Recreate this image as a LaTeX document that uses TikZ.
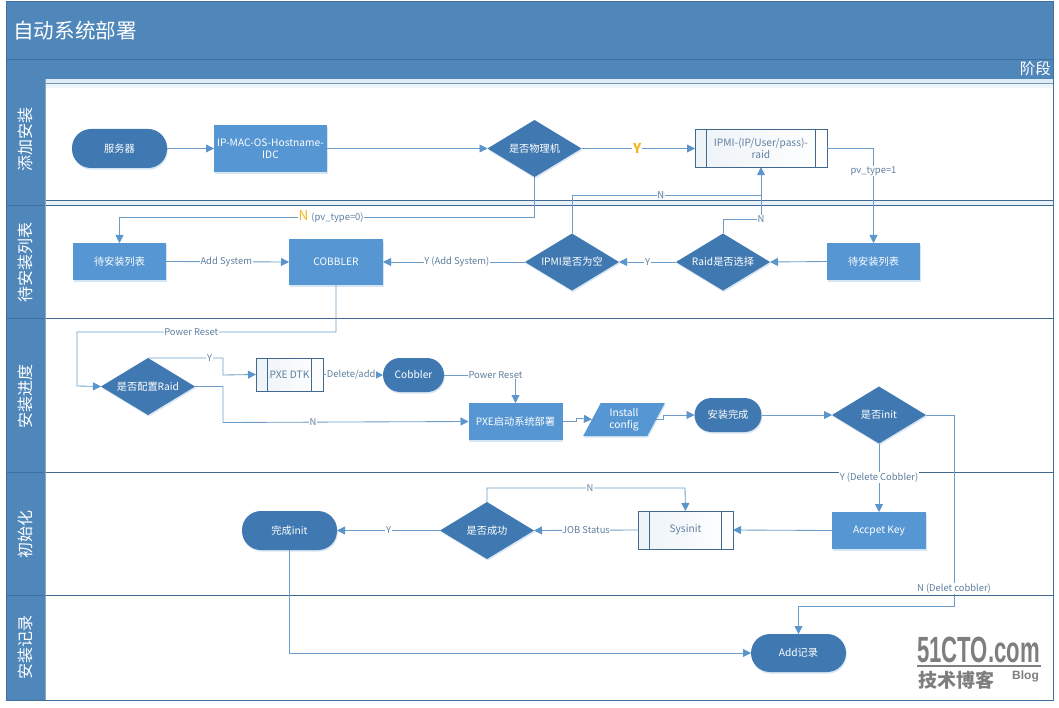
\documentclass[tikz,border=0pt]{standalone}
\usepackage{fontspec}
\setmainfont{Noto Sans CJK SC}
\newfontfamily\wmfont{Liberation Sans}
\usetikzlibrary{arrows.meta,shapes.geometric,shadows,calc}
\definecolor{hdr}{HTML}{4F87BA}
\definecolor{hdrline}{HTML}{3F70A0}
\definecolor{darkfill}{HTML}{4079B1}
\definecolor{rectfill}{HTML}{5596D3}
\definecolor{conn}{HTML}{6C9CC8}
\definecolor{tip}{HTML}{5B95CB}
\definecolor{lane}{HTML}{41688E}
\definecolor{pale}{HTML}{DCEBF6}
\definecolor{lbl}{HTML}{5F7F9F}
\definecolor{glow}{HTML}{BCD4EA}
\definecolor{gold}{HTML}{F2B71E}
\definecolor{wm}{HTML}{7E7E7E}
\tikzset{
  x=1pt,y=-1pt,
  softshadow/.style={general shadow={fill=glow,opacity=.6,shadow xshift=.8pt,shadow yshift=-1.6pt}},
  base/.style={inner sep=0pt,outer sep=0pt,align=center,font=\fontsize{10.2}{12}\selectfont,text=white,softshadow},
  pill/.style={base,rectangle,rounded corners=16.5pt,fill=darkfill},
  flowrect/.style={base,rectangle,fill=rectfill},
  choice/.style={base,diamond,aspect=1.65,fill=darkfill,minimum width=94pt,minimum height=57pt},
  inout/.style={base,trapezium,trapezium left angle=64,trapezium right angle=116,fill=rectfill,trapezium stretches=true},
  subproc/.style={inner sep=0pt,outer sep=0pt,align=center,font=\fontsize{10.2}{12}\selectfont,text=lbl,rectangle,draw=lane,line width=.7pt,left color=hdr!10,right color=white,
    path picture={\draw[lane,line width=.7pt]
      ([xshift=#1]path picture bounding box.north west)--([xshift=#1]path picture bounding box.south west)
      ([xshift=-#1]path picture bounding box.north east)--([xshift=-#1]path picture bounding box.south east);}},
  flow/.style={draw=conn,line width=.85pt,-{Triangle[length=8pt,width=8pt,fill=tip,color=tip]}},
  tag/.style={inner sep=.6pt,fill=white,font=\fontsize{9.4}{11}\selectfont,text=lbl},
  lanelabel/.style={rotate=90,font=\fontsize{16}{18}\selectfont,text=white,inner sep=0pt},
  laneline/.style={draw=lane,line width=.8pt},
}
\begin{document}
\begin{tikzpicture}
\useasboundingbox (0,0) rectangle (1059,708);
% frame, header and lanes
\fill[white] (0,0) rectangle (1059,708);
\fill[hdr] (6,2) rectangle (1053.5,79);
\fill[hdr] (6,79) rectangle (45,700);
\fill[pale] (45,79) rectangle (1053.5,83);
\fill[pale!50] (45,84) rectangle (1053.5,88);
\fill[pale!60] (45,200) rectangle (1053.5,205);
\draw[hdrline,line width=.8pt] (6,59) -- (1053.5,59);
\draw[lane!70,line width=.6pt] (45,83.5) -- (1053.5,83.5);
\draw[laneline] (45,200.3) -- (1053.5,200.3);
\draw[laneline] (45,205.5) -- (1053.5,205.5);
\draw[laneline] (45,318.5) -- (1053.5,318.5);
\draw[laneline] (45,472.5) -- (1053.5,472.5);
\draw[laneline] (45,595.5) -- (1053.5,595.5);
\draw[hdrline,line width=.6pt] (6,205.5) -- (45,205.5) (6,318.5) -- (45,318.5) (6,472.5) -- (45,472.5) (6,595.5) -- (45,595.5);
\draw[hdrline,line width=1pt] (6,2) rectangle (1053.5,700);
\draw[lane!60!white,line width=.6pt] (45,79) -- (45,700);
\node[anchor=west,font=\fontsize{20.6}{22}\selectfont,text=white,inner sep=0pt] (title) at (13,31) {自动系统部署};
\node[anchor=east,font=\fontsize{15.5}{18}\selectfont,text=white,inner sep=0pt] (phase) at (1051,69) {阶段};
\node[lanelabel] (lane1) at (25,140) {添加安装};
\node[lanelabel] (lane2) at (25,262) {待安装列表};
\node[lanelabel] (lane3) at (25,396) {安装进度};
\node[lanelabel] (lane4) at (25,534) {初始化};
\node[lanelabel] (lane5) at (25,647) {安装记录};
% nodes
\node[pill,minimum width=95pt,minimum height=39pt,rounded corners=19pt] (server) at (119.5,148.5) {服务器};
\node[flowrect,minimum width=113pt,minimum height=47pt] (ipmac) at (270.5,148.5) {IP-MAC-OS-Hostname-\\IDC};
\node[choice] (phys) at (534.5,148.5) {是否物理机};
\node[subproc=11.5pt,minimum width=132pt,minimum height=37.5pt] (ipmi) at (761,148.5) {IPMI-(IP/User/pass)-\\raid};
\node[flowrect,minimum width=93pt,minimum height=37pt] (waitA) at (119.5,261.5) {待安装列表};
\node[flowrect,minimum width=94pt,minimum height=46pt] (cobbler) at (336,262) {COBBLER};
\node[choice] (ipmiempty) at (572,262) {IPMI是否为空};
\node[choice] (raidsel) at (723,262) {Raid是否选择};
\node[flowrect,minimum width=93pt,minimum height=37pt] (waitB) at (873.5,261.5) {待安装列表};
\node[choice] (raidcfg) at (148,386.5) {是否配置Raid};
\node[subproc=11.5pt,minimum width=67pt,minimum height=33pt] (pxedtk) at (289.5,374.5) {PXE DTK};
\node[pill,minimum width=61pt,minimum height=34pt,rounded corners=17pt] (cob2) at (413.5,375) {Cobbler};
\node[flowrect,minimum width=94pt,minimum height=37pt] (pxeboot) at (515.5,421.5) {PXE启动系统部署};
\node[inout,minimum width=82pt,minimum height=33pt] (install) at (624,419.5) {Install\\config};
\node[pill,minimum width=67pt,minimum height=34pt,rounded corners=17pt] (done) at (728,415) {安装完成};
\node[choice] (initq) at (879,415) {是否init};
\node[flowrect,minimum width=94pt,minimum height=37pt] (accept) at (879,530.5) {Accpet Key};
\node[subproc=11.5pt,minimum width=95pt,minimum height=38pt] (sysinit) at (685.5,530) {Sysinit};
\node[choice] (success) at (487,530.5) {是否成功};
\node[pill,minimum width=95pt,minimum height=39pt,rounded corners=19pt] (finish) at (289.5,530.5) {完成init};
\node[pill,minimum width=95pt,minimum height=38pt,rounded corners=19pt] (record) at (798.5,653) {Add记录};
% connectors
\draw[flow] (server.east) -- (ipmac.west);
\draw[flow] (ipmac.east) -- (phys.west);
\draw[flow] (phys.east) -- node[tag,pos=.49,text=gold,font=\bfseries\fontsize{13.5}{14}\selectfont]{Y} (ipmi.west);
\draw[flow] (ipmi.east) -| node[tag,pos=.62]{pv\_type=1} (waitB.north);
\draw[flow] (phys.south) -- ++(0,40) -- node[tag,pos=.49]{\textcolor{gold}{\fontsize{13.5}{14}\selectfont N}\hspace{3pt}(pv\_type=0)} ($(phys.south)+(-415,40)$) -- (waitA.north);
\draw[flow] (waitB.west) -- (raidsel.east);
\draw[flow] (raidsel.west) -- node[tag,pos=.5]{Y} (ipmiempty.east);
\draw[flow] (ipmiempty.west) -- node[tag,pos=.48]{Y (Add System)} (cobbler.east);
\draw[flow] (waitA.east) -- node[tag,pos=.49]{Add System} (cobbler.west);
\draw[flow] (raidsel.north) -- ++(0,-14) -- node[tag,pos=1,inner sep=1pt]{N} ++(38,0) -- (ipmi.south);
\draw[flow,-] (ipmiempty.north) -- ++(0,-38) -- node[tag,pos=.47,fill=pale!40]{N} ++(189,0);
\draw[flow] (cobbler.south) -- ++(0,47) -- node[tag,pos=.559]{Power Reset} ++(-259,0) -- ++(0,54) -- (raidcfg.west);
\draw[flow] (raidcfg.north) -- node[tag,pos=.82]{Y} ++(75,0) -- ++(0,17) -- (pxedtk.west);
\draw[flow] (raidcfg.east) -- ++(28,0) -- ++(0,36) -- node[tag,pos=.367]{N} (pxeboot.west);
\draw[flow] (pxedtk.east) -- node[tag,pos=.47]{Delete/add} (cob2.west);
\draw[flow] (cob2.east) -- node[tag,pos=.72]{Power Reset} (cob2.east -| pxeboot.north) -- (pxeboot.north);
\draw[flow] (pxeboot.east) -- ++(14,0) -- ++(0,-3) -- ++(4,0) -- (install.west |- 0,419.5);
\draw[flow] (install.east |- 0,419.5) -- ++(7,0) -- ++(0,-4.5) -- (done.west);
\draw[flow] (done.east) -- (initq.west);
\draw[flow] (initq.south) -- node[tag,pos=.5]{Y (Delete Cobbler)} (accept.north);
\draw[flow] (initq.east) -- ++(28,0) -- node[tag,pos=.91]{N (Delet cobbler)} ++(0,191) -- ++(-155.5,0) -- (record.north);
\draw[flow] (accept.west) -- (sysinit.east);
\draw[flow] (sysinit.west) -- node[tag,pos=.5]{JOB Status} (success.east);
\draw[flow] (success.north) -- ++(0,-14) -- node[tag,pos=.52]{N} ++(198,0) -- (sysinit.north);
\draw[flow] (success.west) -- node[tag,pos=.5]{Y} (finish.east);
\draw[flow] (finish.south) |- (record.west);
% watermark
\node[text=wm,font=\wmfont\bfseries\fontsize{27}{27}\selectfont,inner sep=0pt,xscale=.82,yscale=1.35] (wm1) at (978.5,650) {51CTO.com};
\fill[wm] (917,664.5) rectangle (1041,666.5);
\node[text=wm,font=\bfseries\fontsize{19}{20}\selectfont,inner sep=0pt] (wm2) at (956,680) {技术博客};
\node[text=wm,font=\wmfont\bfseries\fontsize{12}{13}\selectfont,inner sep=0pt] (wm3) at (1025.5,676) {Blog};
\end{tikzpicture}
\end{document}
